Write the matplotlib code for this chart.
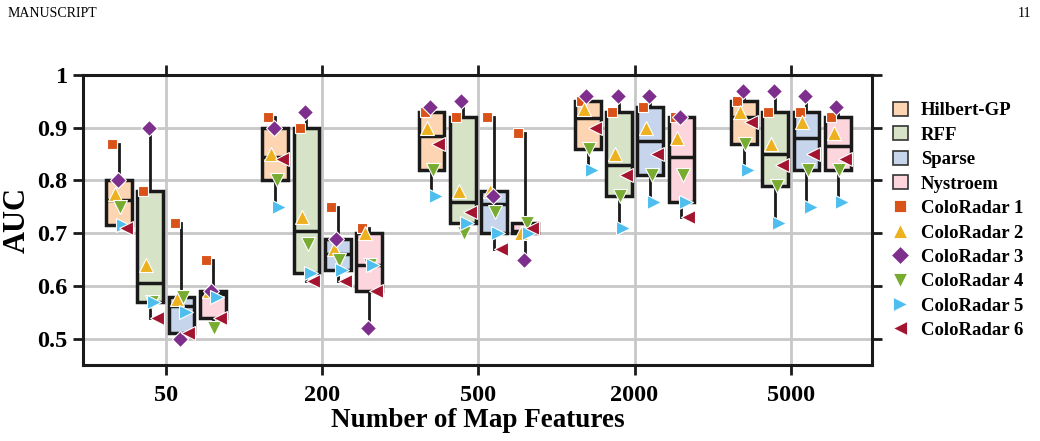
import numpy as np
import matplotlib
matplotlib.use("Agg")
import matplotlib.pyplot as plt
from matplotlib.patches import Patch
from matplotlib.lines import Line2D

plt.rcParams['font.family'] = ['Liberation Serif', 'DejaVu Serif']
plt.rcParams['font.weight'] = 'bold'

feature_labels = ["50", "200", "500", "2000", "5000"]
methods = ["Hilbert-GP", "RFF", "Sparse", "Nystroem"]
datasets = ["ColoRadar 1", "ColoRadar 2", "ColoRadar 3", "ColoRadar 4", "ColoRadar 5", "ColoRadar 6"]

# AUC per method: rows = map-feature counts, columns = ColoRadar 1..6
auc_hilbert = [
    [0.87, 0.775, 0.80, 0.75, 0.715, 0.71],
    [0.92, 0.85, 0.90, 0.80, 0.75, 0.84],
    [0.93, 0.90, 0.94, 0.82, 0.77, 0.87],
    [0.95, 0.935, 0.96, 0.86, 0.82, 0.90],
    [0.95, 0.93, 0.97, 0.87, 0.82, 0.91],
]
auc_rff = [
    [0.78, 0.64, 0.90, 0.57, 0.57, 0.54],
    [0.90, 0.73, 0.93, 0.68, 0.625, 0.61],
    [0.92, 0.78, 0.95, 0.70, 0.72, 0.74],
    [0.93, 0.85, 0.96, 0.77, 0.71, 0.81],
    [0.93, 0.87, 0.97, 0.79, 0.72, 0.83],
]
auc_sparse = [
    [0.72, 0.575, 0.50, 0.58, 0.55, 0.51],
    [0.75, 0.67, 0.69, 0.65, 0.63, 0.61],
    [0.92, 0.78, 0.77, 0.74, 0.70, 0.67],
    [0.94, 0.90, 0.96, 0.81, 0.76, 0.85],
    [0.93, 0.91, 0.96, 0.82, 0.75, 0.85],
]
auc_nystroem = [
    [0.65, 0.59, 0.59, 0.52, 0.58, 0.54],
    [0.71, 0.70, 0.52, 0.64, 0.64, 0.59],
    [0.89, 0.70, 0.65, 0.72, 0.70, 0.71],
    [0.92, 0.88, 0.92, 0.81, 0.76, 0.73],
    [0.92, 0.89, 0.94, 0.82, 0.76, 0.84],
]
all_auc = [auc_hilbert, auc_rff, auc_sparse, auc_nystroem]

box_colors = ["#FDD5B3", "#D6E3C6", "#C6D5EC", "#FDD5DD"]
ds_colors = ["#D95319", "#EDB120", "#7E2F8E", "#77AC30", "#4DBEEE", "#A2142F"]
ds_markers = ["s", "^", "D", "v", ">", "<"]
ds_sizes = [7.5, 9.5, 8, 9.5, 9.5, 9.5]


def hinge_stats(vals):
    v = np.sort(np.asarray(vals, dtype=float))
    n = len(v)
    half = n // 2
    lower = v[:half] if n % 2 == 0 else v[:half + 1]
    upper = v[half:] if n % 2 == 0 else v[half:]
    return dict(med=np.median(v), q1=np.median(lower), q3=np.median(upper),
                whislo=v.min(), whishi=v.max())


fig = plt.figure(figsize=(10.4, 4.41), dpi=100)
ax = fig.add_axes([0.0798, 0.172, 0.7587, 0.658])

ax.set_xlim(-0.53, 4.52)
ax.set_ylim(0.45, 1.0)
ax.set_yticks([0.5, 0.6, 0.7, 0.8, 0.9, 1.0])
ax.set_yticklabels(["0.5", "0.6", "0.7", "0.8", "0.9", "1"])
ax.set_xticks(range(len(feature_labels)))
ax.set_xticklabels(feature_labels)
ax.grid(True, color="#c8c8c8", linewidth=2.0, zorder=0)
ax.set_axisbelow(True)

offsets = [-0.3, -0.1, 0.1, 0.3]
bw = 0.165
for m, data in enumerate(all_auc):
    stats = [hinge_stats(row) for row in data]
    pos = [i + offsets[m] for i in range(len(feature_labels))]
    ax.bxp(stats, positions=pos, widths=bw, showfliers=False, showcaps=False,
           patch_artist=True,
           boxprops=dict(facecolor=box_colors[m], edgecolor="#1a1a1a", linewidth=2.5),
           medianprops=dict(color="#1a1a1a", linewidth=2.5),
           whiskerprops=dict(color="#1a1a1a", linewidth=2.0),
           manage_ticks=False, zorder=2)
    for i, row in enumerate(data):
        for k, val in enumerate(row):
            ax.plot(pos[i] + (k - 2.5) * 0.0175, val, linestyle="none",
                    marker=ds_markers[k], markersize=ds_sizes[k],
                    markerfacecolor=ds_colors[k], markeredgecolor="white",
                    markeredgewidth=0.8, zorder=3)

for sp in ax.spines.values():
    sp.set_linewidth(2.2)
    sp.set_color("#1a1a1a")
ax.tick_params(axis="both", which="major", direction="out", length=7, width=2,
               color="#1a1a1a", labelsize=17.5, top=True, right=True)
for lab in ax.get_xticklabels() + ax.get_yticklabels():
    lab.set_fontweight("bold")
ax.tick_params(axis="x", pad=7)
ax.tick_params(axis="y", pad=4)

ax.set_xlabel("Number of Map Features", fontsize=19.5, fontweight="bold", labelpad=2)
ax.set_ylabel("AUC", fontsize=22, fontweight="bold", labelpad=4)

handles = [Patch(facecolor=box_colors[m], edgecolor="#333333", linewidth=1.2, label=methods[m])
           for m in range(len(methods))]
handles += [Line2D([], [], linestyle="none", marker=ds_markers[k], markersize=ds_sizes[k] + 1,
                   markerfacecolor=ds_colors[k], markeredgecolor="white", markeredgewidth=0.6,
                   label=datasets[k]) for k in range(len(datasets))]
leg = fig.legend(handles=handles, loc="center left", bbox_to_anchor=(0.842, 0.50),
                 frameon=False, prop=dict(size=13.5, weight="bold"),
                 handlelength=0.8, handleheight=0.8, handletextpad=0.7, labelspacing=0.36)

fig.text(0.007, 0.985, "MANUSCRIPT", fontsize=10, fontweight="normal", va="top", ha="left")
fig.text(0.992, 0.985, "11", fontsize=10, fontweight="normal", va="top", ha="right")

fig.savefig("out.png", dpi=100)
